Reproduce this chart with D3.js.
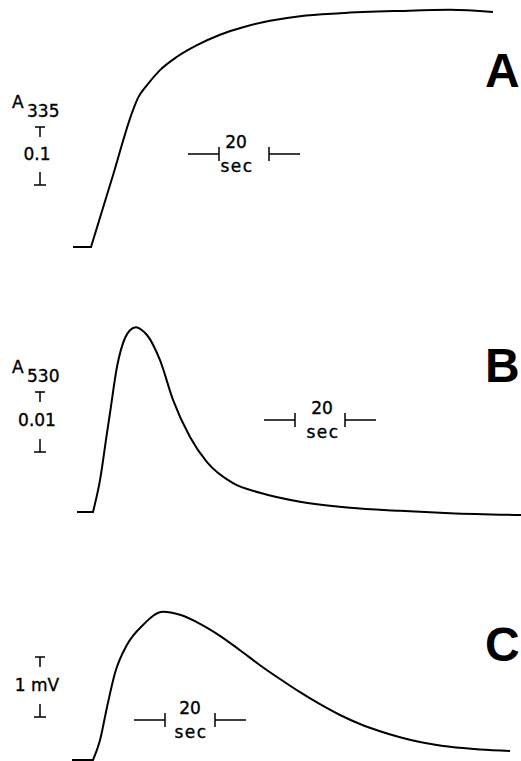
<!DOCTYPE html>
<html><head><meta charset="utf-8">
<script src="https://cdn.jsdelivr.net/npm/d3@7"></script>
<style>body{margin:0;background:#fff}svg{display:block}</style>
</head><body>
<script>
// time (s) and signal values
const timeA = [1.2, 8.4, 16.8, 25.2, 27.2, 30.8, 36, 42.8, 50.8, 60, 69.2, 80, 92, 108, 132, 152, 169.2];
const absA335 = [0, 0, 0.118, 0.236, 0.257, 0.279, 0.305, 0.328, 0.348, 0.366, 0.379, 0.390, 0.398, 0.403, 0.407, 0.409, 0.405];
const timeB = [2.8, 9.2, 12, 14.8, 16, 18.8, 22, 24, 26.4, 28.8, 30.8, 36, 41.2, 48, 54.8, 65.2, 76, 92, 112, 132, 152, 180.4];
const absA530 = [0, 0, 0.0053, 0.0132, 0.0165, 0.0242, 0.0290, 0.0303, 0.0308, 0.0303, 0.0295, 0.0253, 0.0187, 0.0125, 0.0083, 0.0048, 0.0032, 0.0017, 0.0007, 0.0002, -0.0002, -0.0005];
const timeC = [0.8, 9.2, 12, 14.8, 18, 22.8, 29.2, 37.2, 44, 52, 60, 68, 76, 84, 92, 100, 108, 116, 124, 132, 140, 152, 164, 176];
const voltC = [0, 0, 0.33, 0.88, 1.45, 1.92, 2.25, 2.47, 2.42, 2.27, 2.07, 1.83, 1.58, 1.35, 1.13, 0.93, 0.75, 0.60, 0.48, 0.38, 0.30, 0.22, 0.175, 0.15];

const panelLetters = ["A", "B", "C"];
const yLabelMain = ["A", "A", ""];
const yLabelSub = ["335", "530", ""];
const yBarValues = [0.1, 0.01, 1];
const yBarLabels = ["0.1", "0.01", "1 mV"];
const timeBarSec = 20;
const timeBarLabel = ["20", "sec"];

const W = 521, H = 761;
const svg = d3.select("body").append("svg").attr("width", W).attr("height", H);

const x = d3.scaleLinear().domain([0, 180.4]).range([70, 521]);

const panels = [
  {t: timeA, v: absA335, base: 247, pxPerUnit: 580, barBottom: 185, barStartT: 59.6, barY: 154, textX: 236, letterY: 87},
  {t: timeB, v: absA530, base: 512, pxPerUnit: 6000, barBottom: 452, barStartT: 90, barY: 420, textX: 322, letterY: 382},
  {t: timeC, v: voltC, base: 760, pxPerUnit: 60, barBottom: 717, barStartT: 38, barY: 720, textX: 190, letterY: 661}
];

const font = "DejaVu Sans, sans-serif";

function txt(g) {
  return g.append("text").attr("font-family", font).attr("fill", "#000")
    .attr("stroke", "#000").attr("stroke-width", 0.35);
}

panels.forEach((p, i) => {
  const y = d3.scaleLinear().domain([0, 1]).range([p.base, p.base - p.pxPerUnit]);
  const g = svg.append("g");
  const data = p.t.map((t, k) => [t, p.v[k]]);
  const lineFlat = d3.line().x(d => x(d[0])).y(d => y(d[1]));
  const lineSmooth = d3.line().x(d => x(d[0])).y(d => y(d[1])).curve(d3.curveMonotoneX);
  // flat pre-stimulus baseline, then the response (sharp corner at onset)
  g.append("path").attr("d", lineFlat(data.slice(0, 2)) + lineSmooth(data.slice(1)).replace(/^M[^CL]*/, m => "L" + m.slice(1)))
    .attr("fill", "none").attr("stroke", "#000").attr("stroke-width", 2)
    .attr("stroke-linejoin", "miter");

  // panel letter
  g.append("text").attr("x", 485).attr("y", p.letterY)
    .attr("font-family", "Liberation Sans, Arial, sans-serif").attr("font-weight", "bold")
    .attr("font-size", 48).text(panelLetters[i]);

  // vertical scale bar
  const bx = 40;
  const yb = p.barBottom, yt = p.barBottom - yBarValues[i] * p.pxPerUnit;
  const vb = g.append("g").attr("stroke", "#000").attr("stroke-width", 1.5).attr("fill", "none");
  vb.append("path").attr("d", `M${bx - 5},${yt}H${bx + 5}M${bx},${yt}V${yt + 10}`);
  vb.append("path").attr("d", `M${bx - 6},${yb}H${bx + 6}M${bx},${yb}V${yb - 13}`);
  txt(g).attr("x", bx - 3).attr("y", (yt + yb) / 2 + 4)
    .attr("text-anchor", "middle").attr("font-size", 17)
    .text(yBarLabels[i]);
  if (yLabelMain[i]) {
    txt(g).attr("x", 12).attr("y", yt - 19).attr("font-size", 17).text(yLabelMain[i]);
    txt(g).attr("x", 27).attr("y", yt - 10).attr("font-size", 17).text(yLabelSub[i]);
  }

  // time scale bar
  const x1 = x(p.barStartT), x2 = x(p.barStartT + timeBarSec);
  const tb = g.append("g").attr("stroke", "#000").attr("stroke-width", 1.5).attr("fill", "none");
  tb.append("path").attr("d", `M${x1 - 31},${p.barY}H${x1}M${x1},${p.barY - 7}V${p.barY + 7}`);
  tb.append("path").attr("d", `M${x2 + 31},${p.barY}H${x2}M${x2},${p.barY - 7}V${p.barY + 7}`);
  txt(g).attr("x", p.textX).attr("y", p.barY - 6)
    .attr("text-anchor", "middle").attr("font-size", 17).text(timeBarLabel[0]);
  txt(g).attr("x", p.textX + 1).attr("y", p.barY + 18)
    .attr("text-anchor", "middle").attr("font-size", 17)
    .attr("letter-spacing", 1.5).text(timeBarLabel[1]);
});
</script>
</body></html>
